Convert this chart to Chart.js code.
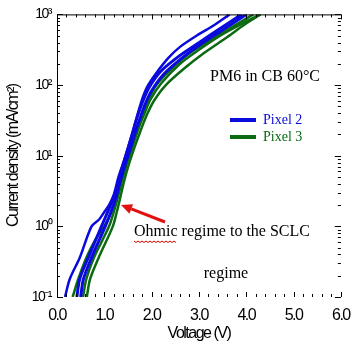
<!DOCTYPE html>
<html><head><meta charset="utf-8">
<script src="https://cdn.jsdelivr.net/npm/chart.js@4"></script>
<style>html,body{margin:0;padding:0;background:#fff}</style>
</head><body>
<canvas id="c" width="361" height="354"></canvas>
<script>
// Pixel 2 (blue) sweeps: voltage (V) and current density (mA/cm^2)
const vB1 = [0.17,0.27,0.48,0.73,0.89,1.0,1.1,1.2,1.3,1.4,1.5,1.6,1.7,1.8,1.9,2.1,2.35,2.6,3.0,3.3,3.65];
const jB1 = [0.1,0.18,0.36,1.0,1.25,1.6,2.0,2.8,5.0,7.9,13,22,38,63,93,148,240,347,525,690,1000];
const vB2 = [0.42,0.48,0.66,0.94,1.1,1.22,1.3,1.4,1.5,1.6,1.7,1.8,1.95,2.2,2.6,3.0,3.4,3.9];
const jB2 = [0.1,0.18,0.36,1.0,1.78,2.8,4.5,7.6,12.6,21,36,56,93,158,263,398,603,1000];
const vB3 = [0.5,0.56,0.73,1.02,1.15,1.25,1.33,1.43,1.55,1.65,1.75,1.87,2.0,2.25,2.6,3.0,3.5,4.0];
const jB3 = [0.1,0.18,0.36,1.0,1.66,2.6,4.2,7.1,12.6,21,33,55,83,141,229,363,603,1000];
// Pixel 3 (green) sweeps
const vG1 = [0.33,0.45,0.62,0.8,1.0,1.15,1.27,1.36,1.46,1.58,1.69,1.81,1.94,2.1,2.4,2.8,3.3,3.85,4.15];
const jG1 = [0.1,0.18,0.36,0.63,1.0,1.58,2.6,4.5,7.6,13.2,22,38,63,100,166,282,457,759,1000];
const vG2 = [0.55,0.62,0.78,1.1,1.22,1.3,1.38,1.48,1.6,1.72,1.85,1.98,2.2,2.6,3.0,3.5,4.0,4.3];
const jG2 = [0.1,0.18,0.36,1.0,1.78,2.8,4.6,7.9,13.8,24,40,63,105,200,316,525,794,1000];
const vG3 = [0.63,0.7,0.88,1.18,1.27,1.34,1.42,1.52,1.64,1.76,1.9,2.05,2.3,2.7,3.1,3.6,3.95,4.3];
const jG3 = [0.1,0.18,0.36,1.0,1.66,2.6,4.4,7.6,13.2,22,38,60,100,174,282,479,708,1000];

const seriesNames = ['Pixel 2','Pixel 3'];
const xTickValues = [0,1,2,3,4,5,6];
const xTickLabels = ['0.0','1.0','2.0','3.0','4.0','5.0','6.0'];
const yTickValues = [0.1,1,10,100,1000];
const yTickLabels = ['10\u207B\u00B9','10\u2070','10\u00B9','10\u00B2','10\u00B3'];
const xTitle = 'Voltage (V)';
const yTitle = 'Current density (mA/cm\u00B2)';
const annTitle = 'PM6 in CB 60\u00B0C';
const annText1 = 'Ohmic regime to the SCLC';
const annText2 = 'regime';

const BLUE = '#0a0adc', GREEN = '#0b6a12';
const pts = (v,j) => v.map((x,i)=>({x:x,y:j[i]}));
const mk = (v,j,c,w) => ({data:pts(v,j),borderColor:c,borderWidth:w,pointRadius:0,fill:false,tension:0.3});

const datasets = [
  mk(vB1,jB1,BLUE,2.5), mk(vB2,jB2,BLUE,3), mk(vB3,jB3,BLUE,3),
  mk(vG1,jG1,GREEN,2.5), mk(vG2,jG2,GREEN,2.5), mk(vG3,jG3,GREEN,2.5)
];

const SANS = '"Liberation Sans",Arial,sans-serif';
const SERIF = '"Liberation Serif","Times New Roman",serif';

const spacing = {
  id:'spacing',
  beforeDraw(chart){ chart.ctx.letterSpacing = '-1.5px'; }
};

const decor = {
  id:'decor',
  afterDraw(chart){
    const ctx = chart.ctx, a = chart.chartArea, xs = chart.scales.x, ys = chart.scales.y;
    ctx.save();
    ctx.letterSpacing = '0px';
    ctx.strokeStyle = '#000'; ctx.lineWidth = 1;
    ctx.beginPath();
    ctx.moveTo(a.left+0.5, a.bottom); ctx.lineTo(a.left+0.5, a.top+0.5); ctx.lineTo(a.right, a.top+0.5);
    ctx.stroke();
    // x ticks
    ctx.beginPath();
    for (let k=0;k<=30;k++){
      const v = k*0.2; const px = Math.round(xs.getPixelForValue(v))+0.5;
      const L = (k%5===0)?5:3;
      ctx.moveTo(px,a.bottom); ctx.lineTo(px,a.bottom-L);
      ctx.moveTo(px,a.top); ctx.lineTo(px,a.top+L);
    }
    // y ticks
    for (let d=-1; d<=2; d++){
      for (let m=1;m<=10;m++){
        const v = m*Math.pow(10,d); if (v>1000.0001) continue;
        const py = Math.round(ys.getPixelForValue(v))+0.5;
        const L = (m===1||m===10)?6:3;
        ctx.moveTo(a.left,py); ctx.lineTo(a.left+L,py);
        ctx.moveTo(a.right,py); ctx.lineTo(a.right-L,py);
      }
    }
    ctx.stroke();
    // annotations
    ctx.fillStyle = '#000'; ctx.textBaseline = 'middle'; ctx.textAlign = 'center';
    ctx.font = '16px '+SERIF;
    ctx.fillText(annTitle, 265, 77);
    ctx.textAlign = 'left';
    ctx.fillText(annText1, 134, 232);
    ctx.textAlign = 'center';
    ctx.fillText(annText2, 226, 274);
    // squiggle under "Ohmic"
    const w = ctx.measureText('Ohmic').width;
    ctx.strokeStyle = '#e00000'; ctx.lineWidth = 1;
    ctx.beginPath();
    for (let x=0; x<=w; x+=2){ const yy = 241 + ((x/2)%2===0?0:1.5); if(x===0)ctx.moveTo(134+x,yy); else ctx.lineTo(134+x,yy);}
    ctx.stroke();
    // legend
    const leg = [[BLUE,seriesNames[0],120],[GREEN,seriesNames[1],137]];
    ctx.font = '14px '+SERIF; ctx.textAlign='left';
    leg.forEach(([c,t,y])=>{
      ctx.strokeStyle=c; ctx.lineWidth=4; ctx.beginPath(); ctx.moveTo(230,y); ctx.lineTo(256,y); ctx.stroke();
      ctx.fillStyle=c; ctx.fillText(t,263,y);
    });
    // arrow
    ctx.strokeStyle='#e21010'; ctx.fillStyle='#e21010'; ctx.lineWidth=3;
    const x1=165,y1=222,x2=121,y2=205;
    const ang=Math.atan2(y2-y1,x2-x1);
    const hx=x2-11*Math.cos(ang), hy=y2-11*Math.sin(ang);
    ctx.beginPath(); ctx.moveTo(x1,y1); ctx.lineTo(hx,hy); ctx.stroke();
    ctx.beginPath(); ctx.moveTo(x2,y2);
    ctx.lineTo(hx+5*Math.sin(ang), hy-5*Math.cos(ang));
    ctx.lineTo(hx-5*Math.sin(ang), hy+5*Math.cos(ang));
    ctx.closePath(); ctx.fill();
    ctx.restore();
  }
};

new Chart(document.getElementById('c'), {
  type:'line',
  data:{datasets:datasets},
  options:{
    responsive:false, animation:false,
    layout:{padding:{top:12,right:19,left:0,bottom:0}},
    plugins:{legend:{display:false}, tooltip:{enabled:false}},
    scales:{
      x:{type:'linear', min:0, max:6,
        grid:{display:false, drawTicks:false}, border:{display:false},
        afterBuildTicks:s=>{s.ticks = xTickValues.map(v=>({value:v}));},
        ticks:{autoSkip:false, maxRotation:0, padding:9, color:'#000', font:{family:SANS,size:16},
          callback:(v,i)=>xTickLabels[i]},
        title:{display:true, text:xTitle, color:'#000', font:{family:SANS,size:16}, padding:{top:2,bottom:11}},
        afterFit:s=>{s.height=57;}
      },
      y:{type:'logarithmic', min:0.1, max:1000,
        grid:{display:false, drawTicks:false}, border:{display:false},
        afterBuildTicks:s=>{s.ticks = yTickValues.map(v=>({value:v}));},
        ticks:{autoSkip:false, padding:6, color:'#000', font:{family:SANS,size:14},
          callback:(v,i)=>yTickLabels[i]},
        title:{display:true, text:yTitle, color:'#000', font:{family:SANS,size:16}, padding:{top:4,bottom:0}},
        afterFit:s=>{s.width=57;}
      }
    }
  },
  plugins:[spacing, decor]
});
</script>
</body></html>
